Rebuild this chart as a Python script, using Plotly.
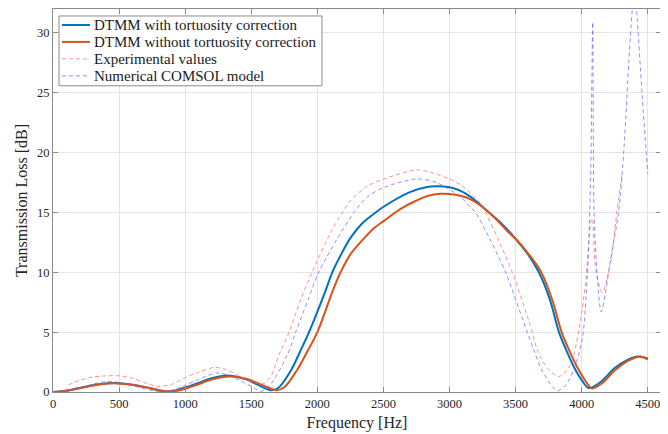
import plotly.graph_objects as go

# ---- data ----
f_tort = [0, 100, 235, 350, 460, 600, 740, 850, 950, 1100, 1200, 1320, 1450, 1550, 1650, 1700,
          1800, 1870, 1937, 2063, 2113, 2180, 2252, 2340, 2441, 2504, 2700, 2839, 2909, 3000,
          3084, 3160, 3298, 3400, 3500, 3600, 3676, 3760, 3828, 3891, 3950, 4000, 4054, 4150,
          4250, 4350, 4420, 4500]
tl_tort = [0, 0.1, 0.42, 0.65, 0.75, 0.6, 0.3, 0.05, 0.2, 0.75, 1.15, 1.38, 1.1, 0.6, 0.15, 0.3,
           1.8, 3.4, 5.0, 8.5, 10.0, 11.5, 12.9, 14.1, 15.0, 15.5, 16.7, 17.15, 17.2, 17.1,
           16.8, 16.3, 15.0, 14.0, 12.8, 11.4, 10.0, 7.7, 5.0, 3.3, 1.9, 1.0, 0.33, 0.9,
           2.0, 2.7, 2.97, 2.8]

f_notort = [0, 100, 235, 350, 470, 600, 740, 860, 960, 1100, 1200, 1335, 1460, 1580, 1690, 1750,
            1850, 1920, 2000, 2118, 2176, 2250, 2350, 2430, 2504, 2630, 2750, 2839, 2931, 3000,
            3084, 3160, 3300, 3450, 3500, 3600, 3694, 3780, 3848, 3909, 3970, 4030, 4079, 4150,
            4250, 4350, 4445, 4500]
tl_notort = [0, 0.1, 0.4, 0.63, 0.73, 0.6, 0.32, 0.05, 0.15, 0.65, 1.05, 1.3, 1.1, 0.6, 0.15, 0.4,
             1.9, 3.3, 5.0, 8.5, 10.0, 11.5, 12.8, 13.7, 14.3, 15.3, 16.0, 16.4, 16.56, 16.55,
             16.4, 16.1, 15.0, 13.3, 12.8, 11.5, 10.0, 7.6, 5.0, 3.4, 2.0, 0.9, 0.3, 0.7,
             1.8, 2.6, 2.97, 2.7]

f_exp = [116, 150, 205, 300, 400, 500, 600, 700, 790, 900, 1000, 1100, 1218, 1300, 1400, 1500,
         1580, 1647, 1710, 1786, 1874, 1960, 2100, 2189, 2252, 2378, 2504, 2756, 2900, 3000,
         3084, 3235, 3273, 3475, 3626, 3664, 3740, 3828, 3916, 3979, 4029, 4068, 4080, 4106,
         4156, 4218, 4268, 4306]
tl_exp = [0.6, 0.75, 1.0, 1.25, 1.35, 1.35, 1.15, 0.75, 0.47, 0.65, 1.2, 1.65, 2.05, 1.9, 1.4, 0.9,
          0.65, 1.3, 3.1, 5.0, 7.7, 10.0, 13.3, 15.0, 16.0, 17.2, 17.8, 18.56, 18.2, 17.8,
          17.3, 15.75, 15.0, 10.0, 5.0, 3.5, 2.0, 1.3, 2.3, 5.2, 9.1, 14.1, 14.5, 10.2,
          8.3, 10.8, 15.2, 18.25]

f_comsol = [0, 100, 200, 300, 411, 500, 600, 700, 820, 900, 1000, 1100, 1243, 1350, 1450, 1520,
            1575, 1650, 1773, 1836, 1930, 2010, 2150, 2277, 2378, 2504, 2756, 2900, 3084, 3160,
            3197, 3300, 3424, 3588, 3638, 3700, 3815, 3880, 3941, 4004, 4042, 4068, 4076, 4083,
            4088, 4093, 4118, 4148, 4218, 4281, 4319, 4357, 4382, 4400, 4415, 4457, 4500]
tl_comsol = [0, 0.1, 0.35, 0.65, 0.89, 0.8, 0.55, 0.25, 0.03, 0.15, 0.55, 1.05, 1.6, 1.3, 0.75, 0.35,
             0.05, 0.7, 3.1, 5.0, 7.7, 10.0, 12.8, 15.0, 16.3, 17.1, 17.8, 17.5, 16.3, 15.4,
             15.0, 12.9, 10.0, 5.0, 3.5, 1.8, 0.1, 0.6, 1.9, 4.4, 9.6, 18.0, 25.0, 30.9,
             22.0, 15.2, 9.6, 6.7, 11.0, 15.2, 20.2, 27.7, 31.9, 34.0, 32.0, 24.9, 18.25]

series_names = ["DTMM with tortuosity correction", "DTMM without tortuosity correction",
                "Experimental values", "Numerical COMSOL model"]

x_ticks = [0, 500, 1000, 1500, 2000, 2500, 3000, 3500, 4000, 4500]
y_ticks = [0, 5, 10, 15, 20, 25, 30]

FONT = "Liberation Serif"
TXT = "#262626"

styles = [
    dict(color="#0072BD", width=2),
    dict(color="#D95319", width=2),
    dict(color="rgba(255,100,100,0.72)", width=1, dash="4px,3px"),
    dict(color="rgba(100,100,255,0.72)", width=1, dash="4px,3px"),
]
datasets = [(f_tort, tl_tort, 1.0), (f_notort, tl_notort, 1.0),
            (f_exp, tl_exp, 0.8), (f_comsol, tl_comsol, 0.8)]

fig = go.Figure()
for (fx, fy, sm), name, st in zip(datasets, series_names, styles):
    fig.add_trace(go.Scatter(x=fx, y=fy, mode="lines", name=name, showlegend=False,
                             line=dict(shape="spline", smoothing=sm, **st)))

# ---- legend box (drawn in paper coordinates, MATLAB style) ----
fig.add_shape(type="rect", xref="paper", yref="paper", x0=0.0099, x1=0.4424, y0=0.7995, y1=0.9818,
              line=dict(color="#8a8a8a", width=1), fillcolor="white", layer="above")
row_y = [0.9583, 0.9141, 0.8698, 0.8255]
for name, st, ry in zip(series_names, styles, row_y):
    fig.add_shape(type="line", xref="paper", yref="paper", x0=0.0148, x1=0.0609, y0=ry, y1=ry,
                  line=st, layer="above")
    fig.add_annotation(xref="paper", yref="paper", x=0.0635, y=ry, text=name, showarrow=False,
                       xanchor="left", yanchor="middle",
                       font=dict(family=FONT, size=15, color="#1a1a1a"))

axis_common = dict(
    showgrid=True, gridcolor="#e4e4e4", gridwidth=1,
    showline=True, linecolor="#8a8a8a", linewidth=1, mirror="ticks",
    ticks="inside", ticklen=5, tickcolor="#8a8a8a",
    zeroline=False,
    tickfont=dict(family=FONT, size=12.5, color=TXT),
)

fig.update_xaxes(range=[0, 4600], tickvals=x_ticks, ticktext=[str(v) for v in x_ticks],
                 title=dict(text="Frequency [Hz]", font=dict(family=FONT, size=16, color=TXT),
                            standoff=6),
                 **axis_common)
fig.update_yaxes(range=[0, 32], tickvals=y_ticks, ticktext=[str(v) for v in y_ticks],
                 title=dict(text="Transmission Loss [dB]", font=dict(family=FONT, size=16, color=TXT),
                            standoff=5),
                 **axis_common)

# page body has an 8px margin, so the figure is sized 8px smaller
fig.update_layout(
    width=660, height=426,
    margin=dict(l=45, r=7, t=1, b=42, autoexpand=False),
    paper_bgcolor="white", plot_bgcolor="white",
    font=dict(family=FONT, size=14, color=TXT),
    showlegend=False,
)

fig.write_html("out.html")
